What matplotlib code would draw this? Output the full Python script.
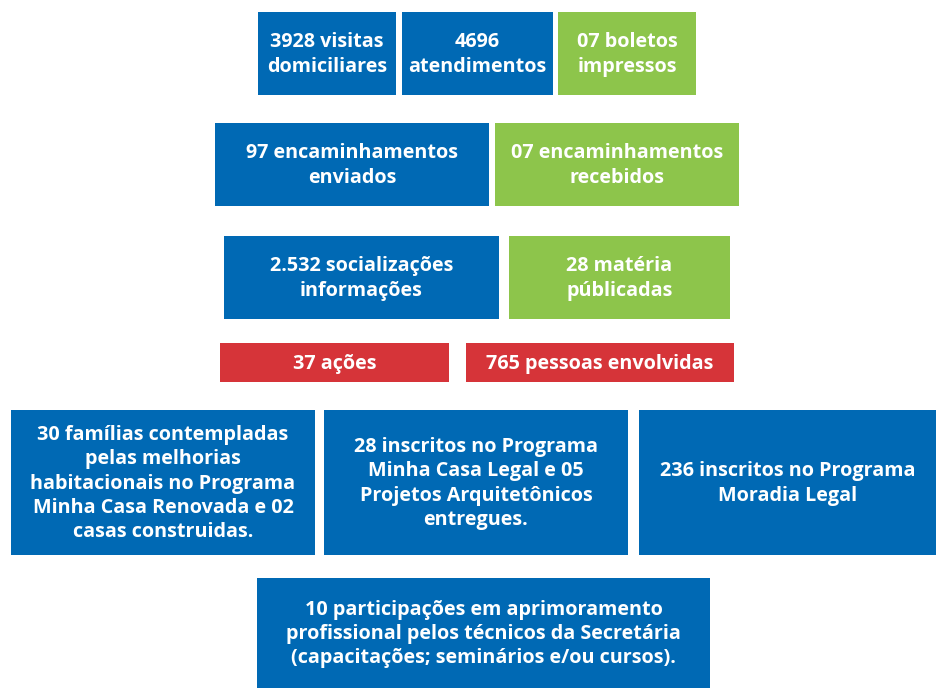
import matplotlib
matplotlib.use("Agg")
import matplotlib.pyplot as plt
from matplotlib.patches import Rectangle

# ---- data ----
labels = [
    "3928 visitas\ndomiciliares",
    "4696\natendimentos",
    "07 boletos\nimpressos",
    "97 encaminhamentos\nenviados",
    "07 encaminhamentos\nrecebidos",
    "2.532 socializações\ninformações",
    "28 matéria\npúblicadas",
    "37 ações",
    "765 pessoas envolvidas",
    "30 famílias contempladas\npelas melhorias\nhabitacionais no Programa\nMinha Casa Renovada e 02\ncasas construidas.",
    "28 inscritos no Programa\nMinha Casa Legal e 05\nProjetos Arquitetônicos\nentregues.",
    "236 inscritos no Programa\nMoradia Legal",
    "10 participações em aprimoramento\nprofissional pelos técnicos da Secretária\n(capacitações; seminários e/ou cursos).",
]
categories = ["blue", "blue", "green", "blue", "green", "blue", "green",
              "red", "red", "blue", "blue", "blue", "blue"]

# ---- layout (pixel boxes: x0, y0, x1, y1) ----
boxes = [
    (258, 12, 396, 95), (402, 12, 553, 95), (558, 12, 696, 95),
    (215, 123, 489, 206), (495, 123, 739, 206),
    (224, 236, 499, 319), (509, 236, 730, 319),
    (220, 343, 449, 382), (466, 343, 734, 382),
    (11, 410, 315, 555), (324, 410, 628, 555), (639, 410, 937, 555),
    (257, 578, 710, 688),
]
palette = {"blue": "#0069B4", "green": "#8DC54B", "red": "#D63439"}

W, H = 937, 688
fig = plt.figure(figsize=(W / 100, H / 100), dpi=100)
ax = fig.add_axes([0, 0, 1, 1])
ax.set_xlim(0, W)
ax.set_ylim(H, 0)
ax.axis("off")

for lab, cat, (x0, y0, x1, y1) in zip(labels, categories, boxes):
    ax.add_patch(Rectangle((x0, y0), x1 - x0, y1 - y0, facecolor=palette[cat],
                           edgecolor="none"))
    ax.text((x0 + x1) / 2, (y0 + y1) / 2 + 1, lab, ha="center", va="center",
            color="white", fontsize=14.2, fontweight="bold", family="Open Sans",
            linespacing=1.27)

fig.savefig("out.png", dpi=100)
